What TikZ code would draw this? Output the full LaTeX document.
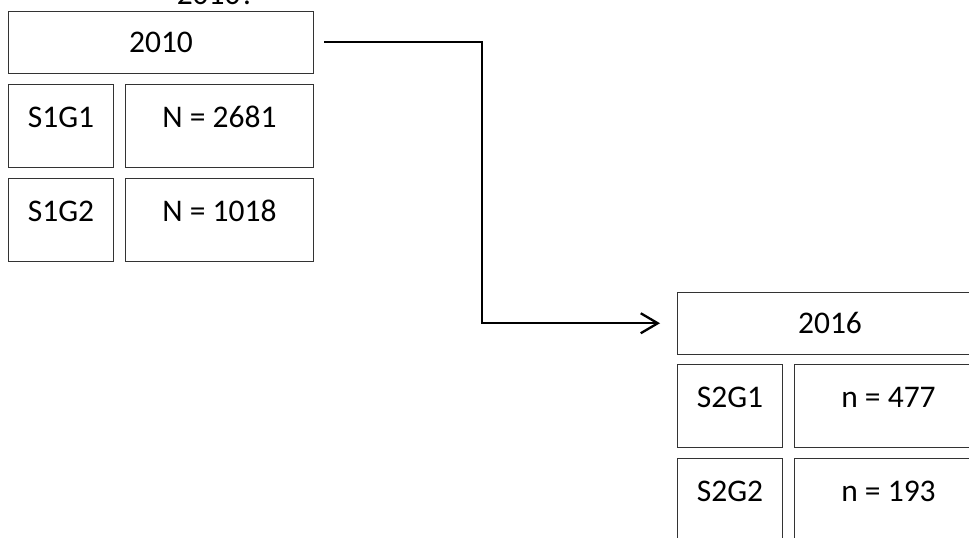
\documentclass[tikz,border=0pt]{standalone}
\usepackage{fontspec}
\setmainfont{Carlito}
\usetikzlibrary{arrows.meta}
\begin{document}
\begin{tikzpicture}[x=1pt,y=-1pt,
  cell/.style={draw=black!80, line width=1pt, rectangle, inner sep=0pt,
    anchor=north west, font=\fontsize{31.5}{36}\selectfont},
  yearbox/.style={cell, minimum width=305pt, text height=40.5pt, text depth=21pt},
  groupbox/.style={cell, minimum width=105pt, text height=43pt, text depth=40pt},
  countbox/.style={cell, minimum width=188pt, text height=43pt, text depth=40pt},
  flow/.style={line width=2.3pt, -{Straight Barb[length=17pt,width=20pt,line width=2.3pt]}}]
\useasboundingbox (0,0) rectangle (969,538);
\clip (0,0) rectangle (969,538);

% heading cut at the top edge
\node[anchor=base, inner sep=0pt, font=\fontsize{31.5}{36}\selectfont] (head) at (216,5) {2010?};

% first wave
\node[yearbox]  (y1)  at (8,11)   {2010};
\node[groupbox] (g11) at (8,84)   {S1G1};
\node[countbox] (n11) at (125,84) {N = 2681};
\node[groupbox] (g12) at (8,178)  {S1G2};
\node[countbox] (n12) at (125,178){N = 1018};

% second wave
\node[yearbox]  (y2)  at (677,292) {2016};
\node[groupbox] (g21) at (677,364) {S2G1};
\node[countbox] (n21) at (794,364) {n = 477};
\node[groupbox] (g22) at (677,458) {S2G2};
\node[countbox] (n22) at (794,458) {n = 193};

% connector between the waves
\coordinate (start) at ([xshift=10pt]y1.east);
\coordinate (bend) at (482,0);
\coordinate (stop) at ([xshift=-17pt]y2.west);
\draw[flow] (start) -- (start -| bend) -- (stop -| bend) -- (stop);
\end{tikzpicture}
\end{document}
